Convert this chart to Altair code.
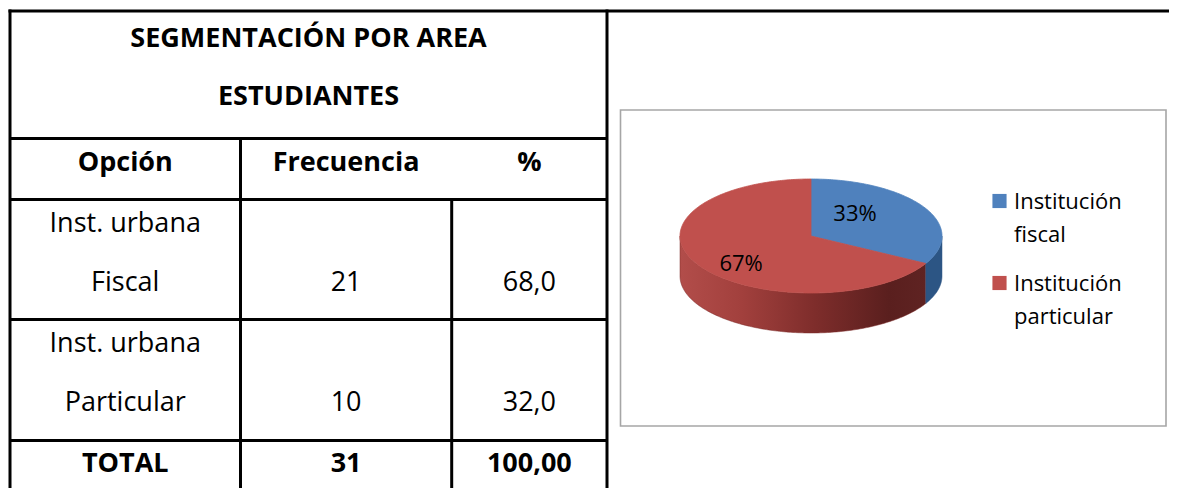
import math
import numpy as np
import pandas as pd
import altair as alt

# ------------------------------------------------------------------ data
title_lines = ["SEGMENTACIÓN POR AREA", "ESTUDIANTES"]
header_labels = ["Opción", "Frecuencia", "%"]
option_lines = [["Inst. urbana", "Fiscal"], ["Inst. urbana", "Particular"]]
frequencies = [21, 10]
percentages = [68.0, 32.0]
total_labels = ["TOTAL", "31", "100,00"]

pie_categories = ["Institución fiscal", "Institución particular"]
pie_values = [33, 67]
pie_colors = ["#4F81BD", "#C0504D"]

# ------------------------------------------------------------------ layout (page pixels)
X0, Y0 = 8, 8
W, H = 1161, 480
RIGHT, BOTTOM = X0 + W, Y0 + H
col_edges = [10, 240.5, 451.7, 607]
row_edges = [11, 138.5, 199.5, 319.5, 440.5]
col_centers = [(col_edges[i] + col_edges[i + 1]) / 2 for i in range(3)]
title_cx = (col_edges[0] + col_edges[-1]) / 2
title_baselines = [46.5, 105]
header_baseline = 170.7
line1_off, line2_off = 32.8, 91.5
total_off = 31
TABLE_FS = 27
CHART_FS = 22
FONT = "Open Sans"

box = dict(x=620.5, x2=1166, y=110, y2=426)
cx, cy, rx, ry, depth = 811, 236, 131, 57, 40
label_k = [(0.39, 0.76), (0.62, 0.965)]
legend_x, legend_y0, legend_gap, legend_line = 999.5, 201, 82, 32.4

xs = alt.Scale(domain=[X0, RIGHT], nice=False, zero=False)
ys = alt.Scale(domain=[Y0, BOTTOM], nice=False, zero=False, reverse=True)
X = lambda f: alt.X(f, type="quantitative", scale=xs, axis=None)
Y = lambda f: alt.Y(f, type="quantitative", scale=ys, axis=None)

# ------------------------------------------------------------------ table grid
segs = [
    (X0 + 0.5, RIGHT, row_edges[0], row_edges[0]),
]
for yv in row_edges[1:]:
    segs.append((col_edges[0], col_edges[-1], yv, yv))
segs += [
    (col_edges[0], col_edges[0], row_edges[0] - 1.5, BOTTOM),
    (col_edges[3], col_edges[3], row_edges[0] - 1.5, BOTTOM),
    (col_edges[1], col_edges[1], row_edges[1], BOTTOM),
    (col_edges[2], col_edges[2], row_edges[2], BOTTOM),
]
grid_df = pd.DataFrame(segs, columns=["x", "x2", "y", "y2"])

# ------------------------------------------------------------------ table text
cells = []
for t, b in zip(title_lines, title_baselines):
    cells.append(dict(text=t, x=title_cx, y=b, bold=True))
for t, c in zip(header_labels, col_centers):
    cells.append(dict(text=t, x=c, y=header_baseline, bold=True))
for i, lines in enumerate(option_lines):
    top = row_edges[2 + i]
    cells.append(dict(text=lines[0], x=col_centers[0], y=top + line1_off, bold=False))
    cells.append(dict(text=lines[1], x=col_centers[0], y=top + line2_off, bold=False))
    cells.append(dict(text=str(frequencies[i]), x=col_centers[1], y=top + line2_off, bold=False))
    cells.append(dict(text=f"{percentages[i]:.1f}".replace(".", ","), x=col_centers[2],
                      y=top + line2_off, bold=False))
for t, c in zip(total_labels, col_centers):
    cells.append(dict(text=t, x=c, y=row_edges[4] + total_off, bold=True))
cells_df = pd.DataFrame(cells)

# ------------------------------------------------------------------ pie geometry (from values)
def rim(a_deg, dy=0.0):
    a = math.radians(a_deg)
    return cx + rx * math.sin(a), cy - ry * math.cos(a) + dy

tot = float(sum(pie_values))
starts, ends, acc = [], [], 0.0
for v in pie_values:
    starts.append(acc / tot * 360)
    acc += v
    ends.append(acc / tot * 360)

rows = []
for cat, a0, a1 in zip(pie_categories, starts, ends):
    n = max(int(math.ceil(a1 - a0)), 2)
    pts = [(cx, cy)] + [rim(a) for a in np.linspace(a0, a1, n)] + [(cx, cy)]
    for k, (px, py) in enumerate(pts):
        rows.append(dict(piece="top|" + cat, kind="top", cat=cat, ord=k, x=px, y=py))
    s0, s1 = max(a0, 90), min(a1, 270)
    if s1 > s0:
        m = max(int(math.ceil(s1 - s0)), 2)
        angs = list(np.linspace(s0, s1, m))
        pts = [rim(a) for a in angs] + [rim(a, depth) for a in reversed(angs)]
        pts.append(pts[0])
        for k, (px, py) in enumerate(pts):
            rows.append(dict(piece="side|" + cat, kind="side", cat=cat, ord=k, x=px, y=py))
pie_df = pd.DataFrame(rows)

labels = []
for i, (cat, v, a0, a1) in enumerate(zip(pie_categories, pie_values, starts, ends)):
    mid = math.radians((a0 + a1) / 2)
    kx, ky = label_k[i]
    labels.append(dict(text=f"{round(v / tot * 100)}%",
                       x=cx + kx * rx * math.sin(mid),
                       y=cy - ky * ry * math.cos(mid) + 7.5))
labels_df = pd.DataFrame(labels)

leg_sq, leg_tx = [], []
for i, cat in enumerate(pie_categories):
    yc = legend_y0 + i * legend_gap
    leg_sq.append(dict(cat=cat, x=legend_x, y=yc))
    for j, part in enumerate(cat.split(" ", 1)):
        leg_tx.append(dict(text=part, x=legend_x + 14.5, y=yc + 8.3 + j * legend_line))
leg_sq_df = pd.DataFrame(leg_sq)
leg_tx_df = pd.DataFrame(leg_tx)

color_scale = alt.Scale(domain=pie_categories, range=pie_colors)

# ------------------------------------------------------------------ layers
box_layer = alt.Chart(pd.DataFrame([box])).mark_rect(
    fill="white", stroke="#A6A6A6", strokeWidth=1.6
).encode(x=X("x"), x2="x2", y=Y("y"), y2="y2")

grid_layer = alt.Chart(grid_df).mark_rule(color="black", strokeWidth=3).encode(
    x=X("x"), x2="x2", y=Y("y"), y2="y2")

bold_text = alt.Chart(cells_df).transform_filter("datum.bold").mark_text(
    font=FONT, fontSize=TABLE_FS, fontWeight="bold", baseline="alphabetic",
    align="center", color="black"
).encode(x=X("x"), y=Y("y"), text="text:N")

reg_text = alt.Chart(cells_df).transform_filter("!datum.bold").mark_text(
    font=FONT, fontSize=TABLE_FS, fontWeight="normal", baseline="alphabetic",
    align="center", color="black"
).encode(x=X("x"), y=Y("y"), text="text:N")

red_side_grad = alt.LinearGradient(
    gradient="linear", x1=0, x2=1, y1=0, y2=0,
    stops=[alt.GradientStop(offset=0, color="#B24D4A"),
           alt.GradientStop(offset=0.25, color="#A2403D"),
           alt.GradientStop(offset=0.55, color="#7E2D2B"),
           alt.GradientStop(offset=0.85, color="#5A1F1E"),
           alt.GradientStop(offset=1, color="#5F2322")])

side_red = alt.Chart(pie_df).transform_filter(
    alt.datum.piece == "side|" + pie_categories[1]
).mark_line(fill=red_side_grad, stroke="#7E2D2B", strokeWidth=0.5).encode(
    x=X("x"), y=Y("y"), order="ord:Q")

side_blue = alt.Chart(pie_df).transform_filter(
    alt.datum.piece == "side|" + pie_categories[0]
).mark_line(fill="#2C5584", stroke="#2C5584", strokeWidth=0.5).encode(
    x=X("x"), y=Y("y"), order="ord:Q")

tops = alt.Chart(pie_df).transform_filter(alt.datum.kind == "top").mark_line(
    strokeWidth=0.8, strokeJoin="round"
).encode(
    x=X("x"), y=Y("y"), order="ord:Q", detail="piece:N",
    fill=alt.Fill("cat:N", scale=color_scale, legend=None),
    stroke=alt.Stroke("cat:N", scale=color_scale, legend=None))

pie_labels = alt.Chart(labels_df).mark_text(
    font=FONT, fontSize=CHART_FS, baseline="alphabetic", align="center", color="black"
).encode(x=X("x"), y=Y("y"), text="text:N")

legend_squares = alt.Chart(leg_sq_df).mark_square(size=200, opacity=1).encode(
    x=X("x"), y=Y("y"),
    fill=alt.Fill("cat:N", scale=color_scale, legend=None),
    stroke=alt.value(None) if False else alt.value("transparent"))

legend_text = alt.Chart(leg_tx_df).mark_text(
    font=FONT, fontSize=CHART_FS, baseline="alphabetic", align="left", color="black"
).encode(x=X("x"), y=Y("y"), text="text:N")

chart = alt.layer(
    box_layer, grid_layer, bold_text, reg_text,
    side_red, side_blue, tops, pie_labels, legend_squares, legend_text
).properties(
    width=W, height=H, padding=0, autosize=alt.AutoSizeParams(type="none"),
    background="white"
).configure_view(strokeWidth=0)

chart.save("out.html", embed_options={"renderer": "svg", "actions": False})
